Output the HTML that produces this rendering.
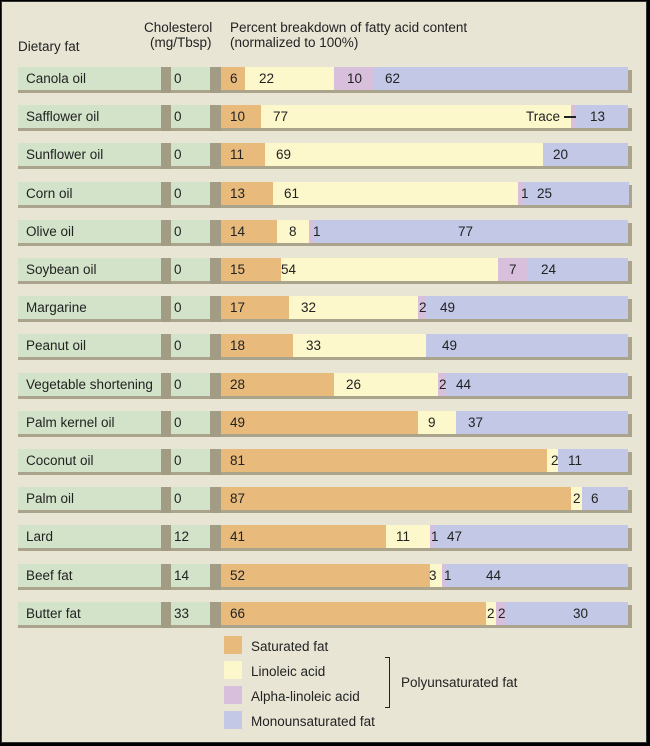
<!DOCTYPE html>
<html><head><meta charset="utf-8"><style>
body{margin:0;width:650px;height:746px;overflow:hidden;background:#000;}
#c{position:absolute;left:1px;top:1px;width:646px;height:742px;background:#e8e5d5;border:1px solid #333;box-sizing:border-box;}
.t{position:absolute;font-family:"Liberation Sans",sans-serif;font-size:13.5px;color:#222;white-space:nowrap;line-height:15px;}
.r{position:absolute;}
</style></head><body>
<div id="c"></div>
<div class="t" style="left:18px;top:39px">Dietary fat</div>
<div class="t" style="left:144px;top:20px">Cholesterol</div>
<div class="t" style="left:150px;top:35px">(mg/Tbsp)</div>
<div class="t" style="left:230px;top:20px">Percent breakdown of fatty acid content</div>
<div class="t" style="left:230px;top:35px">(normalized to 100%)</div>
<div id="rows"></div>
<div class="r" style="left:224px;top:636px;width:18px;height:18px;background:#e8bb7c"></div>
<div class="r" style="left:224px;top:661px;width:18px;height:18px;background:#fdf8cc"></div>
<div class="r" style="left:224px;top:686px;width:18px;height:18px;background:#d8c0dc"></div>
<div class="r" style="left:224px;top:711px;width:18px;height:18px;background:#c2c8e6"></div>
<div class="t" style="left:251px;top:639px">Saturated fat</div>
<div class="t" style="left:251px;top:664px">Linoleic acid</div>
<div class="t" style="left:251px;top:689px">Alpha-linoleic acid</div>
<div class="t" style="left:251px;top:714px">Monounsaturated fat</div>
<div class="r" style="left:385px;top:657px;width:4px;height:49px;border:1.5px solid #222;border-left:none"></div>
<div class="t" style="left:401px;top:675px">Polyunsaturated fat</div>
<script>
var C=['#e8bb7c','#fdf8cc','#d8c0dc','#c2c8e6'];
var D=[
["Canola oil","0",[6,22,10,62],[[230,"6"],[259,"22"],[347,"10"],[385,"62"]]],
["Safflower oil","0",[10,77,1,12],[[230,"10"],[273,"77"],[590,"13"]]],
["Sunflower oil","0",[11,69,0,20],[[230,"11"],[276,"69"],[553,"20"]]],
["Corn oil","0",[13,61,1,25],[[230,"13"],[284,"61"],[521,"1"],[537,"25"]]],
["Olive oil","0",[14,8,1,77],[[230,"14"],[289,"8"],[313,"1"],[458,"77"]]],
["Soybean oil","0",[15,54,7,24],[[230,"15"],[281,"54"],[509,"7"],[541,"24"]]],
["Margarine","0",[17,32,2,49],[[230,"17"],[301,"32"],[419,"2"],[440,"49"]]],
["Peanut oil","0",[18,33,0,49],[[230,"18"],[306,"33"],[442,"49"]]],
["Vegetable shortening","0",[28,26,2,44],[[230,"28"],[346,"26"],[439,"2"],[456,"44"]]],
["Palm kernel oil","0",[49,9.5,0,41.5],[[230,"49"],[428,"9"],[468,"37"]]],
["Coconut oil","0",[81,2.8,0,16.2],[[230,"81"],[551,"2"],[568,"11"]]],
["Palm oil","0",[87,2.8,0,10.2],[[230,"87"],[573,"2"],[591,"6"]]],
["Lard","12",[41,11,1,47],[[230,"41"],[396,"11"],[431,"1"],[447,"47"]]],
["Beef fat","14",[52,3,1,44],[[230,"52"],[429,"3"],[444,"1"],[486,"44"]]],
["Butter fat","33",[66,2.5,2.5,29],[[230,"66"],[487,"2"],[498,"2"],[573,"30"]]]];
var h='';
D.forEach(function(d,i){
var y=Math.round(67+i*38.2);
h+='<div class="r" style="left:18px;top:'+(y+3)+'px;width:614px;height:23px;background:#aba48c"></div>';
h+='<div class="r" style="left:161px;top:'+y+'px;width:10px;height:26px;background:#a39c84"></div>';
h+='<div class="r" style="left:210px;top:'+y+'px;width:11px;height:26px;background:#a39c84"></div>';
h+='<div class="r" style="left:18px;top:'+y+'px;width:143px;height:23px;background:#d3e3c9"></div>';
h+='<div class="r" style="left:171px;top:'+y+'px;width:39px;height:23px;background:#d3e3c9"></div>';
var x=221;d[2].forEach(function(p,k){var w=p*4.02;if(k==3)w=628-x;if(w>0)h+='<div class="r" style="left:'+x+'px;top:'+y+'px;width:'+(w+0.5)+'px;height:23px;background:'+C[k]+'"></div>';x+=w;});
h+='<div class="t" style="left:26px;top:'+(y+4)+'px">'+d[0]+'</div>';
h+='<div class="t" style="left:174px;top:'+(y+4)+'px">'+d[1]+'</div>';
d[3].forEach(function(l){h+='<div class="t" style="left:'+l[0]+'px;top:'+(y+4)+'px">'+l[1]+'</div>';});
if(i==1){h+='<div class="t" style="left:526px;top:'+(y+4)+'px">Trace</div><div class="r" style="left:564px;top:'+(y+11)+'px;width:12px;height:2px;background:#222"></div>';}
});
document.getElementById('rows').innerHTML=h;
</script>
</body></html>
